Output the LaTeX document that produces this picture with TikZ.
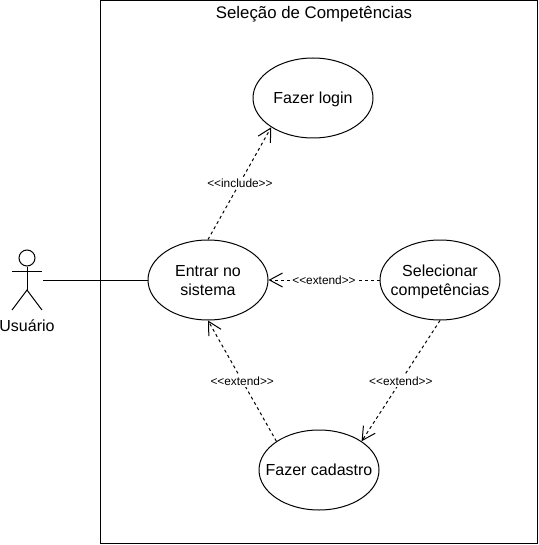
\documentclass[tikz,border=0pt]{standalone}
\usepackage{fontspec}
\setmainfont{Liberation Sans}
\usetikzlibrary{arrows.meta, shapes.geometric, positioning}
\newcommand{\casetext}[1]{\makebox[0pt]{\smash{\raisebox{-.7ex}{\begin{tabular}{@{}c@{}}#1\end{tabular}}}}}

\begin{document}
\begin{tikzpicture}
    [
        x=0.75pt,y=-0.75pt,line width=0.75pt,
        >={Straight Barb[length=9.75pt,width=10.5pt,line width=0.75pt]},
        system/.style={draw, minimum width=327.4pt, minimum height=407.6pt, inner sep=0pt},
        usecase/.style={draw, ellipse, minimum width=90pt, minimum height=60pt, inner sep=0pt, font=\fontsize{12}{14.4}\selectfont},
        head/.style={draw, circle, minimum size=12pt, inner sep=0pt}
    ]
    \tikzstyle{relation} = [draw, dashed, dash pattern=on 2.25pt off 2.25pt, ->]
    \tikzstyle{stereotype} = [fill=white, inner sep=1pt, font=\fontsize{8.9}{10.5}\selectfont]
    \tikzstyle{caption} = [font=\fontsize{12}{14.4}\selectfont]

    \useasboundingbox (0,0) rectangle (538,545);

    % System
    \node[system] (sistema) at (318.75,272.25) {};
    \node[caption, font=\fontsize{12.6}{15}\selectfont] (titulo) at (314,14.5) {Seleção de Competências};

    % Use cases
    \node[usecase] (login) at (313,98) {\casetext{Fazer login}};
    \node[usecase] (entrar) at (208,280) {\casetext{Entrar no\\sistema}};
    \node[usecase] (selecionar) at (440,280) {\casetext{Selecionar\\competências}};
    \node[usecase] (cadastro) at (319,470) {\casetext{Fazer cadastro}};

    % Actor
    \node[head] (cabeca) at (27,258) {};
    \coordinate (quadril) at (27,290);
    \coordinate (bracoE) at (12,271);
    \coordinate (bracoD) at (42,271);
    \coordinate (peE) at (12,310);
    \coordinate (peD) at (42,310);
    \coordinate (mao) at (43,280);
    \node[caption] (usuario) at (27,326) {Usuário};

    \draw (cabeca) -- (quadril);
    \draw (bracoE) -- (bracoD);
    \draw (peE) -- (quadril) -- (peD);
    \draw (mao) -- (entrar.west);

    % Relations
    \path[relation] (entrar.north) -- (login.215) node[stereotype, pos=0.505] (inclui) {<{}<include>{}>};
    \path[relation] (selecionar.west) -- (entrar.east) node[stereotype, pos=0.5] (estendeA) {<{}<extend>{}>};
    \path[relation] (cadastro.146) -- (entrar.south) node[stereotype, pos=0.5] (estendeB) {<{}<extend>{}>};
    \path[relation] (selecionar.south) -- (cadastro.34) node[stereotype, pos=0.5] (estendeC) {<{}<extend>{}>};

\end{tikzpicture}
\end{document}
